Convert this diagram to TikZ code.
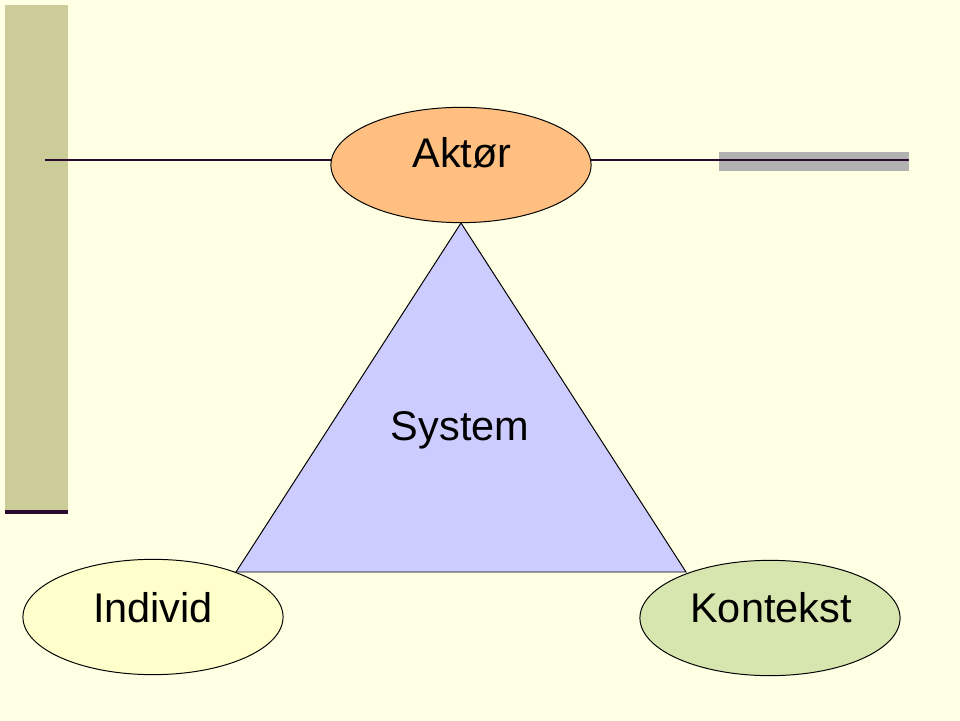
\documentclass[tikz,border=0pt]{standalone}
\usepackage{fontspec}
\setmainfont{Liberation Sans}
\usepackage{xcolor}
\usepackage{tikz}
\usetikzlibrary{positioning,shapes.geometric}
\definecolor{paper}{HTML}{FFFFE3}
\definecolor{sidebar}{HTML}{CCCC99}
\definecolor{rule}{HTML}{2A0A2E}
\definecolor{greybar}{HTML}{B2B2B2}
\definecolor{aktorfill}{HTML}{FFBF80}
\definecolor{sysfill}{HTML}{CCCCFF}
\definecolor{indfill}{HTML}{FFFFCC}
\definecolor{konfill}{HTML}{D7E6AE}
\tikzset{
  oval/.style ={ellipse, draw=black, line width=0.7pt, minimum width=185pt,
                minimum height=82pt, inner sep=0pt},
  word/.style ={font=\fontsize{29.5}{32}\selectfont, inner sep=0pt},
  % the black rule across the top, behind the ellipse
  toprule/.style={draw=rule, line width=1.5pt},
}
\begin{document}
\begin{tikzpicture}[x=0.025cm,y=-0.025cm]
\fill[paper] (0,0) rectangle (960,721);
\useasboundingbox (0,0) rectangle (960,721);
\fill[sidebar] (5,5) rectangle (68,510);
\fill[rule] (5,510) rectangle (68,514);
\fill[greybar] (719,152) rectangle (909,171);
\coordinate (ruleL) at (45,160);
\coordinate (ruleR) at (909,160);
\draw[toprule] (ruleL) -- (ruleR);
\coordinate (apex) at (461,223);
\coordinate (baseL) at (236,572);
\coordinate (baseR) at (686,572);
\filldraw[fill=sysfill, draw=black, line width=0.7pt]
  (apex) -- (baseR) -- (baseL) -- cycle;
\node[word, anchor=base] (system) at (460,440) {System};
\node[oval, fill=aktorfill] (aktor) at (461,165) {};
\node[word, anchor=base] (aktorlbl) at (462,168) {Aktør};
\node[oval, fill=indfill] (individ) at (153,617) {};
\node[word, anchor=base] (individlbl) at (153,622) {Individ};
\node[oval, fill=konfill] (kontekst) at (770,618) {};
\node[word, anchor=base] (kontekstlbl) at (771,622) {Kontekst};
\end{tikzpicture}
\end{document}
